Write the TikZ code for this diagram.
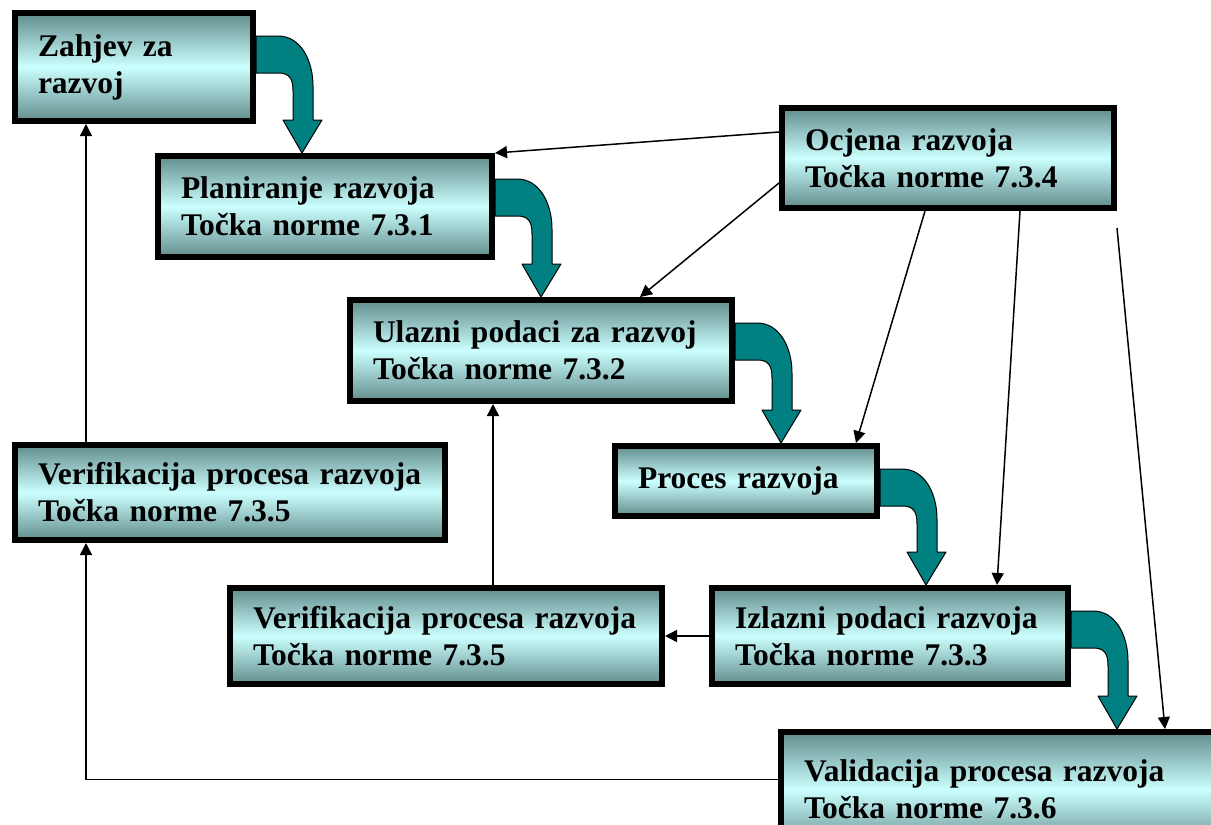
\documentclass[tikz,border=0pt]{standalone}
\usepackage{fontspec}
\setmainfont{Liberation Serif}
\usepackage{tikz}
\usetikzlibrary{calc,arrows.meta}
\definecolor{boxdark}{RGB}{98,140,140}
\definecolor{boxlight}{RGB}{204,255,255}
\definecolor{arrowteal}{RGB}{0,128,128}

\begin{document}
\begin{tikzpicture}[x=1pt, y=-1pt,
	box_node/.style={draw, line width=6pt, top color=boxdark, bottom color=boxdark, middle color=boxlight, inner xsep=23pt, inner ysep=0pt, align=left, font=\fontsize{31.5}{37}\selectfont\bfseries},
	thin_arrow/.style={line width=1.5pt, -{Triangle[length=12pt,width=12pt]}},
	big_arrow/.style={fill=arrowteal, draw=black, line width=1pt, line join=round}]
	
	\useasboundingbox (0,0) rectangle (1211,825);
	\clip (0,0) rectangle (1211,825);
	
	\node[box_node, minimum width=238pt, minimum height=108pt, text width=192pt] (1) at (134,67) {Zahjev za\\razvoj};
	\node[box_node, minimum width=334pt, minimum height=101pt, text width=288pt] (2) at (325,206.5) {Planiranje razvoja\\Točka norme 7.3.1};
	\node[box_node, minimum width=332pt, minimum height=100pt, text width=286pt] (3) at (948,158) {Ocjena razvoja\\Točka norme 7.3.4};
	\node[box_node, minimum width=382pt, minimum height=101pt, text width=336pt] (4) at (541,350.5) {Ulazni podaci za razvoj\\Točka norme 7.3.2};
	\node[box_node, minimum width=262pt, minimum height=70pt, text width=216pt] (5) at (746,481) {Proces razvoja};
	\node[box_node, minimum width=430pt, minimum height=95pt, text width=384pt] (6) at (230,492.5) {Verifikacija procesa razvoja\\Točka norme 7.3.5};
	\node[box_node, minimum width=432pt, minimum height=96pt, text width=386pt] (7) at (446,636) {Verifikacija procesa razvoja\\Točka norme 7.3.5};
	\node[box_node, minimum width=356pt, minimum height=96pt, text width=310pt] (8) at (890,636) {Izlazni podaci razvoja\\Točka norme 7.3.3};
	\node[box_node, minimum width=456pt, minimum height=115pt, text width=410pt] (9) at (1009,789.5) {Validacija procesa razvoja\\Točka norme 7.3.6};
	\coordinate (c) at (1117,228);
	
	% curved arrows from box to box
	\foreach \a/\b in {1/2, 2/4, 4/5, 5/8, 8/9}
	\draw[big_arrow] let \p1=(\a.north east), \p2=(\b.north) in
		(\x1,\y1-26pt) -- (\x1+22pt,\y1-26pt)
		.. controls (\x1+45pt,\y1-26pt) and (\x1+57pt,\y1-51pt) .. (\x1+57pt,\y1-76pt)
		-- (\x1+57pt,\y2+33pt) -- (\x1+66pt,\y2+33pt) -- (\x1+46pt,\y2)
		-- (\x1+27pt,\y2+33pt) -- (\x1+37pt,\y2+33pt) -- (\x1+37pt,\y1-81pt)
		.. controls (\x1+37pt,\y1-68pt) and (\x1+33pt,\y1-63pt) .. (\x1+22pt,\y1-63pt)
		-- (\x1,\y1-63pt) -- cycle;
	
	\draw[thin_arrow] ([yshift=26pt]3.west) -- (2.north east);
	\draw[thin_arrow] ([yshift=-25pt]3.west) -- ([xshift=99pt]4.north);
	\draw[thin_arrow] ([xshift=-23pt]3.south) -- ([xshift=110pt]5.north);
	\draw[thin_arrow] ([xshift=72pt]3.south) -- ([xshift=107pt]8.north);
	\draw[thin_arrow] (c) -- ([xshift=156pt]9.north);
	\draw[thin_arrow] (8.west) -- (7.east);
	\draw[thin_arrow] ([xshift=47pt]7.north) -- ([xshift=-48pt]4.south);
	\draw[thin_arrow] ([xshift=-144pt]6.north) -- ([xshift=-48pt]1.south);
	\draw[thin_arrow] ([yshift=10pt]9.west) -| ([xshift=-144pt]6.south);
\end{tikzpicture}
\end{document}
